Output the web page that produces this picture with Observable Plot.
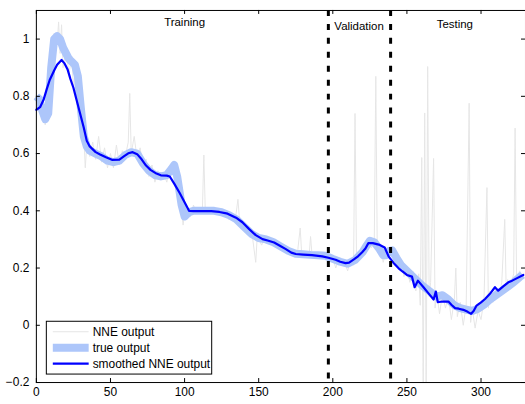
<!DOCTYPE html>
<html>
<head>
<meta charset="utf-8">
<script src="https://cdn.jsdelivr.net/npm/d3@7"></script>
<script src="https://cdn.jsdelivr.net/npm/@observablehq/plot@0.6"></script>
<style>
  html, body { margin: 0; padding: 0; background: white; overflow: hidden; }
  #chart { width: 525px; height: 404px; overflow: hidden; }
</style>
</head>
<body>
<div id="chart"></div>
<script>
// ---- data ----
const xTicks = [0, 50, 100, 150, 200, 250, 300];
const yTicks = [-0.2, 0, 0.2, 0.4, 0.6, 0.8, 1];
const sectionNames = ["Training", "Validation", "Testing"];
const splitPoints = [197, 239];
const legendLabels = ["NNE output", "true output", "smoothed NNE output"];

// NNE output (raw network output)
const nneT = [0,2,4,6,8,10,12,14,15,16,17,18,20,22,24,25,26,28,30,32,33,34,36,38,40,42,44,46,48,50,
  52,54,56,58,60,62,63,64,66,68,70,72,74,76,78,80,82,84,86,88,90,92,94,96,98,99,100,102,104,106,
  108,110,112,113,114,116,118,120,122,124,126,128,130,132,134,136,137,138,140,142,144,146,148,149,150,
  152,154,156,158,160,162,164,166,168,170,172,174,176,178,179,180,182,184,185,186,188,190,192,194,196,
  198,200,202,204,206,208,210,212,214,215,216,218,220,222,224,226,228,229,230,232,234,236,238,240,242,
  244,246,248,250,252,254,256,258,259,260,261,262,263,264,265,266,268,269,270,272,274,276,278,280,282,
  283,284,286,288,290,292,293,294,296,298,300,302,304,305,306,308,310,312,314,316,317,318,320,322,323,
  324,326,328];
const nneV = [0.78,0.76,0.74,0.70,0.76,0.88,1.02,0.98,1.06,0.95,1.05,0.90,0.96,0.88,0.94,0.82,0.89,0.84,0.73,0.66,0.55,0.63,0.59,0.64,0.58,0.66,0.57,0.62,0.55,0.60,
  0.55,0.63,0.56,0.61,0.59,0.64,0.81,0.60,0.66,0.58,0.62,0.55,0.58,0.52,0.56,0.50,0.54,0.51,0.53,0.50,0.55,0.53,0.50,0.45,0.40,0.35,0.39,0.41,0.38,0.42,
  0.39,0.41,0.40,0.595,0.39,0.41,0.395,0.405,0.39,0.40,0.385,0.40,0.37,0.39,0.36,0.44,0.37,0.35,0.36,0.32,0.33,0.30,0.22,0.31,0.30,
  0.28,0.31,0.29,0.30,0.28,0.29,0.27,0.28,0.26,0.265,0.25,0.26,0.245,0.34,0.25,0.24,0.255,0.24,0.31,0.245,0.25,0.24,0.25,0.235,0.245,
  0.23,0.235,0.20,0.23,0.21,0.22,0.19,0.23,0.21,0.74,0.23,0.25,0.24,0.28,0.30,0.27,0.30,0.87,0.26,0.28,0.22,0.26,0.24,0.27,0.22,
  0.20,0.23,0.17,0.20,0.15,0.19,0.12,0.18,0.07,0.586,-0.25,0.742,-0.25,0.904,0.10,0.15,0.583,0.06,0.12,0.04,0.11,0.06,0.10,0.02,0.09,
  0.20,0.03,0.08,0.00,0.07,0.776,0.01,0.06,-0.01,0.05,0.02,0.09,0.481,0.06,0.12,0.08,0.13,0.10,0.15,0.37,0.12,0.16,0.13,0.18,0.689,
  0.15,0.19,0.17];

// true output
const trueT = [0,2,4,6,8,10,12,14,16,18,20,22,24,26,28,30,32,34,36,40,44,48,52,56,60,64,68,72,76,80,
  84,88,91,93,95,98,100,103,106,110,115,120,125,130,135,140,145,150,155,160,165,170,175,180,185,190,195,200,205,210,
  215,220,223,225,228,231,234,236,238,240,243,246,250,255,260,265,270,274,278,282,286,290,294,298,302,306,310,314,318,322,
  326,328];
const trueV = [0.80,0.79,0.75,0.72,0.74,0.90,1.00,1.01,1.00,0.97,0.95,0.93,0.92,0.91,0.87,0.76,0.66,0.625,0.61,0.60,0.59,0.575,0.57,0.575,0.595,0.605,0.60,0.565,0.54,0.525,
  0.52,0.525,0.545,0.56,0.52,0.42,0.38,0.395,0.40,0.40,0.40,0.40,0.395,0.385,0.37,0.345,0.32,0.305,0.30,0.29,0.275,0.26,0.25,0.248,0.246,0.245,0.243,0.232,0.222,0.215,
  0.228,0.255,0.28,0.295,0.29,0.27,0.245,0.245,0.26,0.262,0.235,0.21,0.19,0.165,0.14,0.12,0.10,0.105,0.09,0.07,0.06,0.055,0.05,0.058,0.072,0.09,0.105,0.12,0.135,0.15,
  0.168,0.176];

// smoothed NNE output
const smoothT = [0,2.5,5,7,9,12,14,17,19,21,23,25,27,29.5,32,34,36,40,43,47,51,56,59,62,65,68,71,74,77,81,
  84,88,90,93,96.6,100,103,106,110,118,123.5,129,134.7,139,143.6,148,152.6,156,160.4,164,168.3,172,175,180,186,192.9,197,201.9,205,208.6,
  211,214.2,217,219.8,222,224,227,231,235,237.7,241,244.4,247,250,253.4,255.2,257.4,261.2,264,268,269.5,270.8,274,278,280,282.5,285,288.1,291,293.3,
  295,297,300,302.7,306,309.4,311.6,315,318.4,321,324,328.5];
const smoothV = [0.753,0.762,0.79,0.825,0.857,0.89,0.91,0.927,0.915,0.895,0.86,0.83,0.79,0.74,0.69,0.645,0.625,0.605,0.597,0.587,0.578,0.579,0.59,0.601,0.605,0.598,0.58,0.558,0.543,0.53,
  0.524,0.523,0.52,0.495,0.463,0.43,0.40,0.399,0.399,0.399,0.396,0.39,0.376,0.36,0.336,0.315,0.301,0.296,0.289,0.279,0.266,0.254,0.249,0.247,0.245,0.241,0.236,0.229,0.222,0.217,
  0.219,0.23,0.241,0.255,0.268,0.287,0.287,0.282,0.272,0.24,0.218,0.199,0.188,0.176,0.17,0.133,0.156,0.133,0.115,0.09,0.118,0.081,0.083,0.083,0.072,0.06,0.058,0.054,0.047,0.04,
  0.05,0.069,0.08,0.092,0.11,0.133,0.121,0.136,0.15,0.156,0.164,0.176];

// ---- build tables ----
const nne = nneT.map((t, i) => ({t, v: nneV[i]}));
const truth = trueT.map((t, i) => ({t, v: trueV[i]}));
const smooth = smoothT.map((t, i) => ({t, v: smoothV[i]}));

// ---- styles / layout ----
const colNNE = "#e6e6e6", colTrue = "#adc6fa", colSmooth = "#0000ff";
const fontFam = "'Liberation Sans', Arial, Helvetica, sans-serif";
const W = 527, H = 404, mL = 36, mR = 0, mT = 10, mB = 20.5;
const plotW = W - mL - mR, plotH = H - mT - mB;
const sectionAnchors = [{x: 100, y: 1.058}, {x: 217.7, y: 1.044}, {x: 282.3, y: 1.05}];
const sections = sectionNames.map((name, i) => ({name, ...sectionAnchors[i]}));

const chart = Plot.plot({
  width: W, height: H,
  marginLeft: mL, marginRight: mR, marginTop: mT, marginBottom: mB,
  x: {domain: [0, 330], label: null},
  y: {domain: [-0.2, 1.1], label: null},
  style: {fontFamily: fontFam, fontSize: "12px", color: "black", background: "white"},
  marks: [
    Plot.line(nne, {x: "t", y: "v", stroke: colNNE, strokeWidth: 1, clip: true}),
    Plot.line(truth, {x: "t", y: "v", stroke: colTrue, strokeWidth: 8, strokeLinejoin: "round", strokeLinecap: "butt"}),
    Plot.line(smooth, {x: "t", y: "v", stroke: colSmooth, strokeWidth: 2.2}),
    Plot.ruleX(splitPoints, {x: d => d, stroke: "black", strokeWidth: 3, strokeDasharray: "6,8"}),
    Plot.text(sections, {x: "x", y: "y", text: "name", fill: "black", fontSize: 11.5}),
    Plot.frame({stroke: "black"}),
    Plot.tickX(xTicks, {x: d => d, insetTop: plotH - 4, stroke: "black"}),
    Plot.tickX(xTicks, {x: d => d, insetBottom: plotH - 4, stroke: "black"}),
    Plot.tickY(yTicks, {y: d => d, insetRight: plotW - 4, stroke: "black"}),
    Plot.tickY(yTicks, {y: d => d, insetLeft: plotW - 4, stroke: "black"}),
    Plot.axisX({ticks: xTicks, tickSize: 0, tickPadding: 5, fontSize: 12, tickFormat: d => String(d)}),
    Plot.axisY({ticks: yTicks, tickSize: 0, tickPadding: 7, fontSize: 12, tickFormat: d => d < 0 ? "\u2212" + Math.abs(d) : String(d)})
  ]
});
document.getElementById("chart").appendChild(chart);

// ---- legend (inside plot area, bottom-left) ----
const svg = d3.select(chart);
const lg = svg.append("g").attr("font-family", fontFam).attr("font-size", 12).attr("text-anchor", "start");
lg.append("rect").attr("x", 46.5).attr("y", 322.5).attr("width", 166).attr("height", 53)
  .attr("fill", "white").attr("stroke", "black").attr("stroke-width", 1);
const legendStyles = [
  {stroke: colNNE, width: 1},
  {stroke: colTrue, width: 8},
  {stroke: colSmooth, width: 2.2}
];
legendLabels.forEach((label, i) => {
  const y = 333 + i * 16;
  lg.append("line").attr("x1", 53).attr("x2", 89).attr("y1", y).attr("y2", y)
    .attr("stroke", legendStyles[i].stroke).attr("stroke-width", legendStyles[i].width);
  lg.append("text").attr("x", 93).attr("y", y).attr("dy", "0.35em").attr("text-anchor", "start")
    .attr("fill", "black").text(label);
});
</script>
</body>
</html>
